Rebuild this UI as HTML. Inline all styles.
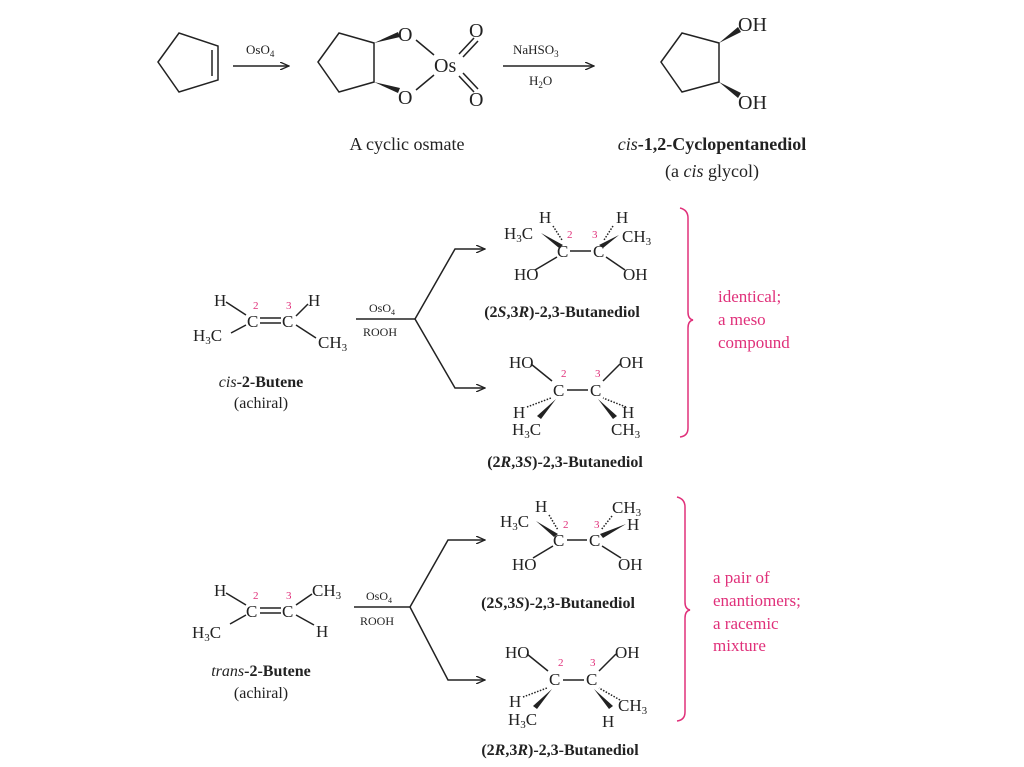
<!DOCTYPE html>
<html><head><meta charset="utf-8"><style>
html,body{margin:0;padding:0;background:#fff}
svg{display:block}
text{font-family:"Liberation Serif",serif;fill:#222}
.b{font-weight:bold}
.p{fill:#e0307a}
.n{fill:#e0307a;font-size:11px}
line,polyline,polygon,path{stroke:#222;stroke-width:1.5;fill:none}
.w{fill:#222;stroke:none}
.br{stroke:#e0307a;stroke-width:1.5;fill:none}
</style></head><body>
<svg width="1024" height="767" viewBox="0 0 1024 767" xmlns="http://www.w3.org/2000/svg">
<defs><marker id="a" markerWidth="10" markerHeight="8" refX="9" refY="4" orient="auto" markerUnits="userSpaceOnUse"><path d="M0,0 L9,4 L0,8" style="stroke:#222;stroke-width:1.3;fill:none"/></marker></defs>

<!-- cyclopentene -->
<polygon points="158,62 179,33 218,46 218,80 179,92"/>
<line x1="212" y1="50" x2="212" y2="76"/>
<line x1="233" y1="66" x2="289" y2="66" marker-end="url(#a)"/>
<text x="246" y="54" font-size="13">OsO<tspan font-size="9" dy="3">4</tspan></text>

<!-- osmate -->
<polygon points="318,62 339,33 374,43 374,82 339,92"/>
<polygon class="w" points="374,43 398,32 400,37"/>
<polygon class="w" points="374,82 398,93 400,88"/>
<text x="398" y="41" font-size="20">O</text>
<text x="398" y="104" font-size="20">O</text>
<line x1="416" y1="40" x2="434" y2="55"/>
<line x1="416" y1="90" x2="434" y2="75"/>
<text x="434" y="72" font-size="20">Os</text>
<line x1="459" y1="54" x2="474" y2="38"/><line x1="463" y1="57" x2="478" y2="41"/>
<line x1="459" y1="76" x2="474" y2="92"/><line x1="463" y1="73" x2="478" y2="89"/>
<text x="469" y="37" font-size="20">O</text>
<text x="469" y="106" font-size="20">O</text>
<text x="407" y="150" font-size="18" text-anchor="middle">A cyclic osmate</text>

<line x1="503" y1="66" x2="594" y2="66" marker-end="url(#a)"/>
<text x="513" y="54" font-size="13">NaHSO<tspan font-size="9" dy="3">3</tspan></text>
<text x="529" y="85" font-size="13">H<tspan font-size="9" dy="3">2</tspan><tspan dy="-3">O</tspan></text>

<!-- diol -->
<polygon points="661,62 682,33 719,43 719,82 682,92"/>
<polygon class="w" points="719,43 738,27 741,32"/>
<polygon class="w" points="719,82 738,98 741,93"/>
<text x="738" y="31" font-size="20">OH</text>
<text x="738" y="109" font-size="20">OH</text>
<text x="712" y="150" font-size="18" text-anchor="middle" class="b"><tspan font-style="italic" font-weight="normal">cis</tspan>-1,2-Cyclopentanediol</text>
<text x="712" y="177" font-size="18" text-anchor="middle">(a <tspan font-style="italic">cis</tspan> glycol)</text>

<!-- cis-2-butene -->
<g font-size="17">
<text x="214" y="306">H</text>
<text x="247" y="327">C</text><text x="282" y="327">C</text>
<text x="308" y="306">H</text>
<text x="193" y="341">H<tspan font-size="11" dy="3">3</tspan><tspan dy="-3">C</tspan></text>
<text x="318" y="348">CH<tspan font-size="11" dy="3">3</tspan></text>
</g>
<text class="n" x="253" y="309">2</text><text class="n" x="286" y="309">3</text>
<line x1="226" y1="302" x2="246" y2="315"/>
<line x1="296" y1="316" x2="308" y2="304"/>
<line x1="260" y1="318" x2="281" y2="318"/><line x1="260" y1="323" x2="281" y2="323"/>
<line x1="231" y1="333" x2="246" y2="325"/>
<line x1="296" y1="325" x2="316" y2="338"/>
<text x="261" y="387" font-size="16" text-anchor="middle" class="b"><tspan font-style="italic" font-weight="normal">cis</tspan>-2-Butene</text>
<text x="261" y="408" font-size="16" text-anchor="middle">(achiral)</text>

<line x1="356" y1="319" x2="415" y2="319"/>
<text x="369" y="312" font-size="12">OsO<tspan font-size="8" dy="3">4</tspan></text>
<text x="363" y="336" font-size="12">ROOH</text>
<polyline points="415,319 455,249 485,249" marker-end="url(#a)"/>
<polyline points="415,319 455,388 485,388" marker-end="url(#a)"/>

<!-- 2S,3R -->
<g font-size="17">
<text x="504" y="239">H<tspan font-size="11" dy="3">3</tspan><tspan dy="-3">C</tspan></text>
<text x="539" y="223">H</text><text x="616" y="223">H</text>
<text x="557" y="257">C</text><text x="593" y="257">C</text>
<text x="622" y="242">CH<tspan font-size="11" dy="3">3</tspan></text>
<text x="514" y="280">HO</text><text x="623" y="280">OH</text>
</g>
<text class="n" x="567" y="238">2</text><text class="n" x="592" y="238">3</text>
<polygon class="w" points="541,233 563,245 559,248"/>
<polygon class="w" points="619,235 599,245 603,248"/>
<line x1="553" y1="226" x2="562" y2="240" stroke-dasharray="1.5 1.5"/>
<line x1="613" y1="226" x2="604" y2="240" stroke-dasharray="1.5 1.5"/>
<line x1="570" y1="251" x2="591" y2="251"/>
<line x1="557" y1="257" x2="535" y2="270"/><line x1="606" y1="257" x2="625" y2="270"/>
<text x="562" y="317" font-size="16" text-anchor="middle" class="b">(2<tspan font-style="italic">S</tspan>,3<tspan font-style="italic">R</tspan>)-2,3-Butanediol</text>

<!-- 2R,3S -->
<g font-size="17">
<text x="509" y="368">HO</text><text x="619" y="368">OH</text>
<text x="553" y="396">C</text><text x="590" y="396">C</text>
<text x="513" y="418">H</text><text x="622" y="418">H</text>
<text x="512" y="435">H<tspan font-size="11" dy="3">3</tspan><tspan dy="-3">C</tspan></text>
<text x="611" y="435">CH<tspan font-size="11" dy="3">3</tspan></text>
</g>
<text class="n" x="561" y="377">2</text><text class="n" x="595" y="377">3</text>
<line x1="531" y1="364" x2="552" y2="381"/><line x1="620" y1="364" x2="603" y2="381"/>
<line x1="567" y1="390" x2="588" y2="390"/>
<line x1="527" y1="407" x2="551" y2="398" stroke-dasharray="1.5 1.5"/>
<line x1="626" y1="407" x2="603" y2="398" stroke-dasharray="1.5 1.5"/>
<polygon class="w" points="556,399 541,419 537,416"/>
<polygon class="w" points="598,399 613,419 617,416"/>
<text x="565" y="467" font-size="16" text-anchor="middle" class="b">(2<tspan font-style="italic">R</tspan>,3<tspan font-style="italic">S</tspan>)-2,3-Butanediol</text>

<path class="br" d="M680,208 Q688,210 688,218 L688,312 Q688,319 693,320 Q688,321 688,328 L688,428 Q688,436 680,437"/>
<g font-size="17" font-family="Liberation Serif"><text class="p" x="718" y="302">identical;</text><text class="p" x="718" y="325">a meso</text><text class="p" x="718" y="348">compound</text></g>

<!-- trans-2-butene -->
<g font-size="17">
<text x="214" y="596">H</text>
<text x="246" y="617">C</text><text x="282" y="617">C</text>
<text x="312" y="596">CH<tspan font-size="11" dy="3">3</tspan></text>
<text x="192" y="638">H<tspan font-size="11" dy="3">3</tspan><tspan dy="-3">C</tspan></text>
<text x="316" y="637">H</text>
</g>
<text class="n" x="253" y="599">2</text><text class="n" x="286" y="599">3</text>
<line x1="226" y1="593" x2="246" y2="605"/>
<line x1="296" y1="605" x2="312" y2="594"/>
<line x1="260" y1="608" x2="281" y2="608"/><line x1="260" y1="613" x2="281" y2="613"/>
<line x1="230" y1="624" x2="246" y2="615"/>
<line x1="296" y1="615" x2="314" y2="625"/>
<text x="261" y="676" font-size="16" text-anchor="middle" class="b"><tspan font-style="italic" font-weight="normal">trans</tspan>-2-Butene</text>
<text x="261" y="698" font-size="16" text-anchor="middle">(achiral)</text>

<line x1="354" y1="607" x2="410" y2="607"/>
<text x="366" y="600" font-size="12">OsO<tspan font-size="8" dy="3">4</tspan></text>
<text x="360" y="625" font-size="12">ROOH</text>
<polyline points="410,607 448,540 485,540" marker-end="url(#a)"/>
<polyline points="410,607 448,680 485,680" marker-end="url(#a)"/>

<!-- 2S,3S -->
<g font-size="17">
<text x="500" y="527">H<tspan font-size="11" dy="3">3</tspan><tspan dy="-3">C</tspan></text>
<text x="535" y="512">H</text>
<text x="612" y="513">CH<tspan font-size="11" dy="3">3</tspan></text>
<text x="627" y="530">H</text>
<text x="553" y="546">C</text><text x="589" y="546">C</text>
<text x="512" y="570">HO</text><text x="618" y="570">OH</text>
</g>
<text class="n" x="563" y="528">2</text><text class="n" x="594" y="528">3</text>
<polygon class="w" points="536,521 558,534 554,537"/>
<polygon class="w" points="626,524 600,534 603,538"/>
<line x1="549" y1="515" x2="558" y2="530" stroke-dasharray="1.5 1.5"/>
<line x1="612" y1="516" x2="601" y2="530" stroke-dasharray="1.5 1.5"/>
<line x1="567" y1="540" x2="587" y2="540"/>
<line x1="553" y1="546" x2="533" y2="558"/><line x1="602" y1="546" x2="621" y2="558"/>
<text x="558" y="608" font-size="16" text-anchor="middle" class="b">(2<tspan font-style="italic">S</tspan>,3<tspan font-style="italic">S</tspan>)-2,3-Butanediol</text>

<!-- 2R,3R -->
<g font-size="17">
<text x="505" y="658">HO</text><text x="615" y="658">OH</text>
<text x="549" y="685">C</text><text x="586" y="685">C</text>
<text x="509" y="707">H</text>
<text x="508" y="725">H<tspan font-size="11" dy="3">3</tspan><tspan dy="-3">C</tspan></text>
<text x="618" y="711">CH<tspan font-size="11" dy="3">3</tspan></text>
<text x="602" y="727">H</text>
</g>
<text class="n" x="558" y="666">2</text><text class="n" x="590" y="666">3</text>
<line x1="527" y1="654" x2="548" y2="671"/><line x1="616" y1="654" x2="599" y2="671"/>
<line x1="563" y1="680" x2="584" y2="680"/>
<line x1="523" y1="697" x2="547" y2="688" stroke-dasharray="1.5 1.5"/>
<line x1="620" y1="700" x2="599" y2="688" stroke-dasharray="1.5 1.5"/>
<polygon class="w" points="552,689 537,709 533,706"/>
<polygon class="w" points="594,689 609,709 613,706"/>
<text x="560" y="755" font-size="16" text-anchor="middle" class="b">(2<tspan font-style="italic">R</tspan>,3<tspan font-style="italic">R</tspan>)-2,3-Butanediol</text>

<path class="br" d="M677,497 Q685,499 685,507 L685,602 Q685,609 690,610 Q685,611 685,618 L685,712 Q685,720 677,721"/>
<g font-size="17"><text class="p" x="713" y="583">a pair of</text><text class="p" x="713" y="606">enantiomers;</text><text class="p" x="713" y="629">a racemic</text><text class="p" x="713" y="651">mixture</text></g>
</svg>
</body></html>
